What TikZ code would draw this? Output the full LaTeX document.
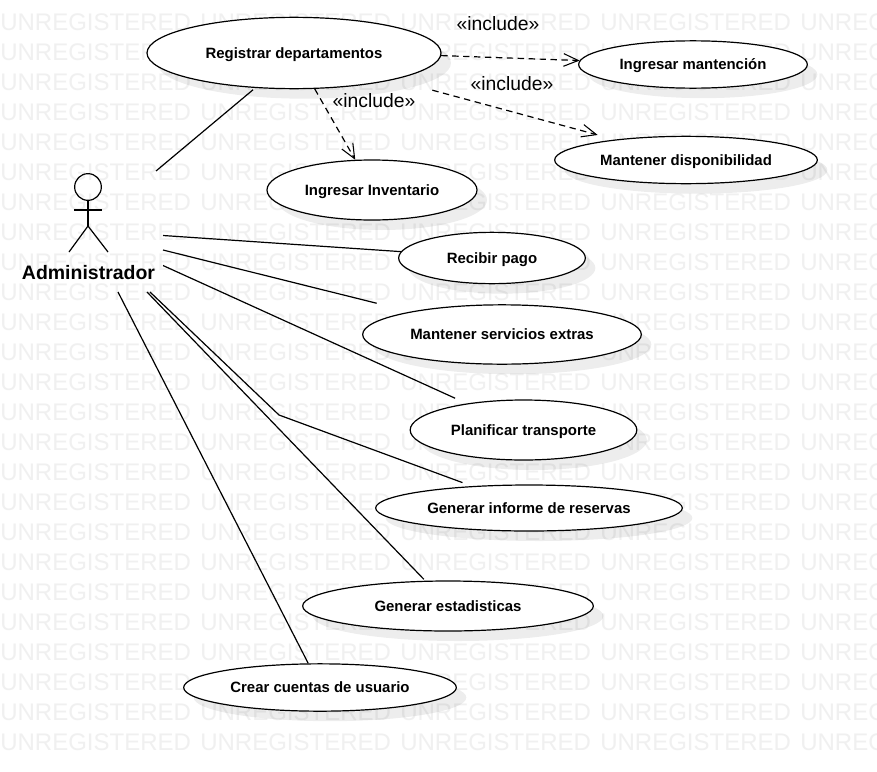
\documentclass[tikz,border=0pt]{standalone}
\usepackage{fontspec}
\setmainfont{Liberation Sans}
\usepackage{tikz}
\usetikzlibrary{shapes.geometric,shadows,arrows.meta}
\tikzset{
    usecase/.style={shape=ellipse,draw=black,fill=white,line width=0.9pt,inner sep=0pt,
        font=\fontsize{11.2pt}{12pt}\selectfont\bfseries,text height=8pt,text depth=0pt,
        drop shadow={shadow xshift=7.5pt,shadow yshift=-7.5pt,fill=black,opacity=0.07}},
    assoc/.style={line width=0.9pt,color=black},
    incl/.style={line width=0.9pt,color=black,dash pattern=on 4.8pt off 3.4pt,
        -{Straight Barb[length=11pt,width=9.5pt,line width=0.8pt]}},
    stereo/.style={font=\fontsize{14.5pt}{16pt}\selectfont,inner sep=0pt},
    watermark/.style={font=\fontsize{18pt}{20pt}\selectfont,color=black!6,inner sep=0pt,anchor=west}
}
\begin{document}
\begin{tikzpicture}[x=0.75pt,y=-0.75pt]
    \useasboundingbox (0,0) rectangle (877,771);
    \fill[white] (0,0) rectangle (877,771);

    \begin{scope}
    \clip (0,0) rectangle (877,771);
    \foreach \r in {0,...,24}
        \foreach \c in {0,...,4}
            \node[watermark] (wm-\r-\c) at (\c*200,22+\r*30) {UNREGISTERED};
    \end{scope}

    \node[usecase,minimum width=220.5pt,minimum height=53.5pt] (registrar) at (294,53) {Registrar departamentos};
    \node[usecase,minimum width=171.5pt,minimum height=35.5pt] (mantencion) at (693,64.5) {Ingresar mantención};
    \node[usecase,minimum width=197pt,minimum height=35.5pt] (disponibilidad) at (686,160) {Mantener disponibilidad};
    \node[usecase,minimum width=157.5pt,minimum height=45pt] (inventario) at (372,190) {Ingresar Inventario};
    \node[usecase,minimum width=140pt,minimum height=38.5pt] (pago) at (492,258) {Recibir pago};
    \node[usecase,minimum width=209pt,minimum height=44.5pt] (servicios) at (502,334.5) {Mantener servicios extras};
    \node[usecase,minimum width=170pt,minimum height=45pt] (transporte) at (523.5,430) {Planificar transporte};
    \node[usecase,minimum width=230pt,minimum height=34.5pt] (informe) at (529,508) {Generar informe de reservas};
    \node[usecase,minimum width=218pt,minimum height=37.5pt] (estadisticas) at (448,606) {Generar estadisticas};
    \node[usecase,minimum width=204.5pt,minimum height=35.5pt] (cuentas) at (320,687.5) {Crear cuentas de usuario};

    % actor
    \node[shape=circle,draw=black,line width=0.9pt,minimum size=20pt,inner sep=0pt] (head) at (88,187) {};
    \coordinate (hip) at (88,226);
    \coordinate (armL) at (74,210);
    \coordinate (armR) at (102,210);
    \coordinate (legL) at (69,252);
    \coordinate (legR) at (108,252);
    \draw[assoc] (head) -- (hip);
    \draw[assoc] (armL) -- (armR);
    \draw[assoc] (legL) -- (hip) -- (legR);
    \node[font=\fontsize{14.6pt}{17pt}\selectfont\bfseries,inner sep=0pt] (admin) at (88.5,273) {Administrador};

    % free ends near the actor
    \coordinate (a1) at (156,171);
    \coordinate (a2) at (163,235.5);
    \coordinate (a3) at (163,250);
    \coordinate (a4) at (163,265.5);
    \coordinate (a5) at (150,292);
    \coordinate (a6) at (147,292);
    \coordinate (a7) at (118,292);
    \coordinate (bend) at (279,415);

    \draw[assoc,shorten >=2pt] (a1) -- (registrar.222);
    \draw[assoc] (a2) -- (pago.176);
    \draw[assoc,shorten >=26pt] (a3) -- (servicios.166);
    \draw[assoc,shorten >=9.5pt] (a4) -- (transporte.155.7);
    \draw[assoc,shorten >=7.5pt] (a5) -- (bend) -- (informe.159.5);
    \draw[assoc,shorten >=1.5pt] (a6) -- (estadisticas.132.8);
    \draw[assoc] (a7) -- (cuentas.116.1);

    \draw[incl] (registrar.-60) -- (inventario.119);
    \draw[incl] (registrar.-1) -- (mantencion.178.7);
    \draw[incl,shorten <=30pt,shorten >=13.3pt] (registrar.-15) -- (disponibilidad.164.3);

    \node[stereo] (incl1) at (498,24) {«include»};
    \node[stereo] (incl2) at (512,84) {«include»};
    \node[stereo] (incl3) at (374,101) {«include»};
\end{tikzpicture}
\end{document}
